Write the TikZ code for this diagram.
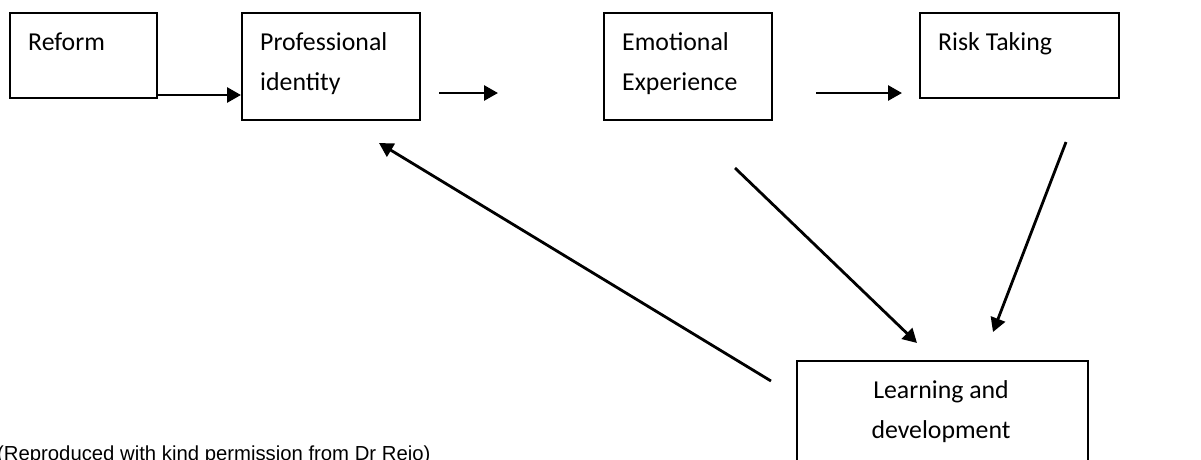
\documentclass[tikz,border=0pt]{standalone}
\usepackage{fontspec}
\setmainfont{Carlito}
\newfontfamily\notefont{Liberation Sans}
\usetikzlibrary{arrows.meta}

\tikzset{
  box/.style={draw=black, line width=2pt, rectangle, inner sep=0pt, anchor=north west},
  lbl/.style={inner sep=0pt, anchor=base west, font=\fontsize{25.8}{30}\selectfont},
  clbl/.style={inner sep=0pt, anchor=base, font=\fontsize{25.8}{30}\selectfont},
  arr/.style={line width=2.8pt, -{Triangle[length=14pt,width=15pt]}},
  note/.style={inner sep=0pt, anchor=base west, font=\notefont\fontsize{20.3}{24}\selectfont}
}

\begin{document}
\begin{tikzpicture}[x=1pt, y=-1pt]
  \useasboundingbox (0,0) rectangle (1201,459);
  \clip (0,0) rectangle (1201,459);
  \fill[white] (0,0) rectangle (1201,459);

  % boxes
  \node[box, minimum width=147pt, minimum height=85pt]  (reform) at (9,12) {};
  \node[box, minimum width=178pt, minimum height=107pt] (prof)   at (241,12) {};
  \node[box, minimum width=168pt, minimum height=107pt] (emo)    at (603,12) {};
  \node[box, minimum width=199pt, minimum height=85pt]  (risk)   at (919,12) {};
  \node[box, minimum width=291pt, minimum height=130pt] (learn)  at (796,360) {};

  % box texts
  \node[lbl] (reformT) at (28,50) {Reform};
  \node[lbl] (profT1)  at (260,50) {Professional};
  \node[lbl] (profT2)  at (260,90) {identity};
  \node[lbl] (emoT1)   at (622,50) {Emotional};
  \node[lbl] (emoT2)   at (622,90) {Experience};
  \node[lbl] (riskT)   at (938,50) {Risk Taking};
  \node[clbl] (learnT1) at (941,398) {Learning and};
  \node[clbl] (learnT2) at (941,438) {development};

  % free arrow ends
  \coordinate (pe1) at (439,93);
  \coordinate (pe2) at (498,93);
  \coordinate (er1) at (816,93);
  \coordinate (er2) at (902,93);
  \coordinate (el1) at (735,168);
  \coordinate (el2) at (917,343);
  \coordinate (rl1) at (1066,142);
  \coordinate (rl2) at (993,332);
  \coordinate (lp1) at (771,381);
  \coordinate (lp2) at (379,143);

  % connectors
  \draw[arr] ([yshift=4pt]reform.south east) -- ([yshift=4pt]reform.south east -| prof.west);
  \draw[arr] (pe1) -- (pe2);
  \draw[arr] (er1) -- (er2);
  \draw[arr] (el1) -- (el2);
  \draw[arr] (rl1) -- (rl2);
  \draw[arr] (lp1) -- (lp2);

  % source note
  \node[note] (src) at (-3,460) {(Reproduced with kind permission from Dr Rejo)};
\end{tikzpicture}
\end{document}
